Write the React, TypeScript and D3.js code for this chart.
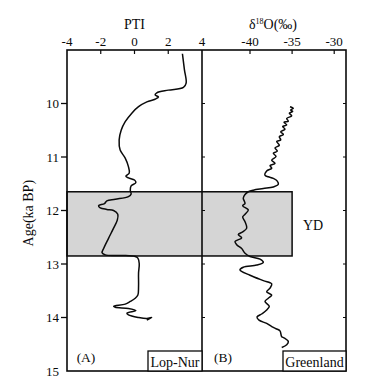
import React from 'react';
import * as d3 from 'd3';

// PTI record (Lop-Nur): age (ka BP) and PTI value
const ptiAge = [9.07, 9.37, 9.62, 9.70, 9.75, 9.80, 9.84, 9.88, 9.92, 9.97, 10.06, 10.18, 10.34, 10.50, 10.68, 10.87, 11.02, 11.18, 11.30, 11.36, 11.39, 11.43, 11.48, 11.54, 11.62, 11.69, 11.74, 11.79, 11.82, 11.87, 11.91, 11.95, 11.98, 12.00, 12.07, 12.18, 12.33, 12.52, 12.71, 12.79, 12.83, 12.84, 12.86, 12.89, 12.99, 13.17, 13.42, 13.58, 13.64, 13.70, 13.75, 13.79, 13.81, 13.83, 13.87, 13.92, 13.95, 14.00, 14.02, 14.00, 14.05];
const ptiVal = [2.84, 2.96, 3.06, 2.9, 2.0, 1.32, 1.22, 1.42, 1.22, 0.73, 0.24, -0.16, -0.55, -0.79, -0.91, -0.85, -0.55, -0.36, -0.31, -0.51, -0.36, 0.0, 0.08, -0.2, -0.25, -0.2, -0.36, -1.14, -1.64, -1.78, -2.13, -2.03, -1.64, -1.24, -0.99, -1.02, -1.24, -1.54, -1.83, -1.92, -1.73, -0.75, 0.04, 0.2, 0.28, 0.24, 0.24, 0.2, 0.04, -0.25, -0.55, -1.24, -1.14, -0.36, 0.08, -0.45, -0.36, 0.24, 0.73, 1.02, 0.73];

// δ18O record (Greenland)
const d18oAge = [10.06, 10.09, 10.12, 10.15, 10.18, 10.23, 10.28, 10.33, 10.35, 10.40, 10.43, 10.48, 10.53, 10.58, 10.62, 10.68, 10.71, 10.78, 10.83, 10.89, 10.93, 10.99, 11.06, 11.12, 11.16, 11.21, 11.26, 11.34, 11.37, 11.40, 11.45, 11.51, 11.56, 11.59, 11.62, 11.65, 11.70, 11.77, 11.87, 11.91, 11.99, 12.07, 12.12, 12.21, 12.33, 12.40, 12.45, 12.51, 12.58, 12.64, 12.71, 12.80, 12.86, 12.91, 12.97, 13.02, 13.06, 13.11, 13.21, 13.31, 13.37, 13.45, 13.52, 13.58, 13.64, 13.70, 13.79, 13.86, 13.93, 13.99, 14.05, 14.11, 14.17, 14.21, 14.25, 14.36, 14.38, 14.45, 14.51, 14.56];
const d18oVal = [-35.25, -34.86, -35.17, -34.93, -35.33, -35.05, -35.64, -35.45, -35.96, -35.64, -36.12, -35.84, -36.35, -36.04, -36.52, -36.35, -36.83, -36.52, -37.03, -36.76, -37.23, -36.91, -37.42, -37.03, -37.62, -37.42, -38.02, -38.22, -37.83, -37.23, -36.76, -36.64, -37.23, -38.42, -39.61, -40.2, -40.59, -40.8, -40.59, -40.87, -40.2, -40.59, -40.87, -40.59, -40.39, -40.87, -41.39, -40.99, -41.78, -41.58, -40.99, -40.59, -40.0, -38.81, -38.42, -39.2, -40.8, -41.19, -40.0, -38.42, -37.42, -37.62, -38.02, -37.42, -37.83, -38.22, -37.71, -38.02, -38.57, -39.17, -38.93, -38.02, -37.42, -36.91, -36.44, -36.23, -35.96, -35.45, -35.64, -36.23];

const ageTicks = [10, 11, 12, 13, 14, 15];
const ptiTicks = [-4, -2, 0, 2, 4];
const d18oTicks = [-40, -35, -30];
const ydAges = [11.65, 12.85];
const ydD18oEdge = -35;

const FONT = '"Liberation Serif", "Times New Roman", serif';
const INK = '#0a0a0a';

export default function App() {
  const y = d3.scaleLinear().domain([9, 15]).range([50, 371]);
  const xA = d3.scaleLinear().domain([-4, 4]).range([67, 202]);
  const xB = d3.scaleLinear().domain([-45.7, -28.6]).range([202, 346]);

  const ptiData = ptiAge.map((a, i) => [a, ptiVal[i]] as [number, number]);
  const dData = d18oAge.map((a, i) => [a, d18oVal[i]] as [number, number]);

  const lineA = d3.line<[number, number]>()
    .x(d => xA(d[1])).y(d => y(d[0]))
    .curve(d3.curveCatmullRom.alpha(0.5));
  const lineB = d3.line<[number, number]>()
    .x(d => xB(d[1])).y(d => y(d[0]))
    .curve(d3.curveCatmullRom.alpha(0.5));

  const left = xA(-4), mid = xA(4), right = xB.range()[1];
  const top = y(9), bottom = y(15);

  return (
    <svg width={370} height={385} style={{ position: 'absolute', left: 0, top: 0, background: '#fff' }}
      fontFamily={FONT}>
      <rect x={0} y={0} width={370} height={385} fill="#fff" />
      {/* YD shaded box */}
      <rect x={left} y={y(ydAges[0])} width={xB(ydD18oEdge) - left} height={y(ydAges[1]) - y(ydAges[0])}
        fill="#d5d5d5" stroke={INK} strokeWidth={1.5} />
      {/* frames */}
      <rect x={left} y={top} width={right - left} height={bottom - top} fill="none" stroke={INK} strokeWidth={1.6} />
      <line x1={mid} x2={mid} y1={top} y2={bottom} stroke={INK} strokeWidth={1.6} />

      {/* left age axis */}
      {ageTicks.map(t => (
        <g key={'a' + t}>
          {t < 15 && <line x1={left - 6} x2={left} y1={y(t)} y2={y(t)} stroke={INK} strokeWidth={1.3} />}
          {t < 15 && <line x1={mid} x2={mid + 3} y1={y(t)} y2={y(t)} stroke={INK} strokeWidth={1} />}
          {t < 15 && <line x1={right - 3} x2={right} y1={y(t)} y2={y(t)} stroke={INK} strokeWidth={1} />}
          <text x={left - 8} y={y(t) + 4.5} textAnchor="end" fontSize={13} fill={INK}>{t}</text>
        </g>
      ))}
      <text transform={`translate(33,${y(12.05)}) rotate(-90)`} textAnchor="middle" fontSize={14} fill={INK}>Age(ka BP)</text>

      {/* top PTI axis */}
      {ptiTicks.map(t => (
        <g key={'p' + t}>
          {t > -4 && t < 4 && <line x1={xA(t)} x2={xA(t)} y1={top} y2={top + 4} stroke={INK} strokeWidth={1.2} />}
          <text x={xA(t)} y={46} textAnchor="middle" fontSize={13} fill={INK}>{t}</text>
        </g>
      ))}
      <text x={xA(0)} y={29} textAnchor="middle" fontSize={14} fill={INK}>PTI</text>

      {/* top d18O axis */}
      {d18oTicks.map(t => (
        <g key={'d' + t}>
          <line x1={xB(t)} x2={xB(t)} y1={top} y2={top + 4} stroke={INK} strokeWidth={1.2} />
          <text x={xB(t)} y={46} textAnchor="middle" fontSize={13} fill={INK}>{t}</text>
        </g>
      ))}
      <text x={273} y={29} textAnchor="middle" fontSize={14} fill={INK}>
        δ<tspan fontSize={8} dy={-5}>18</tspan><tspan dy={5}>O(‰)</tspan>
      </text>

      {/* curves */}
      <path d={lineA(ptiData) || ''} fill="none" stroke={INK} strokeWidth={1.5} strokeLinejoin="round" />
      <path d={lineB(dData) || ''} fill="none" stroke={INK} strokeWidth={1.5} strokeLinejoin="round" />

      {/* labels */}
      <text x={313} y={230} textAnchor="middle" fontSize={14} fill={INK}>YD</text>
      <text x={86} y={362} textAnchor="middle" fontSize={13.5} fill={INK}>(A)</text>
      <text x={223} y={362} textAnchor="middle" fontSize={13.5} fill={INK}>(B)</text>
      <rect x={148} y={351} width={mid - 148} height={bottom - 351} fill="#fff" stroke={INK} strokeWidth={1.3} />
      <text x={(148 + mid) / 2} y={366.5} textAnchor="middle" fontSize={14} fill={INK}>Lop-Nur</text>
      <rect x={283} y={351} width={right - 283} height={bottom - 351} fill="#fff" stroke={INK} strokeWidth={1.3} />
      <text x={(283 + right) / 2} y={366.5} textAnchor="middle" fontSize={14} fill={INK}>Greenland</text>
    </svg>
  );
}
